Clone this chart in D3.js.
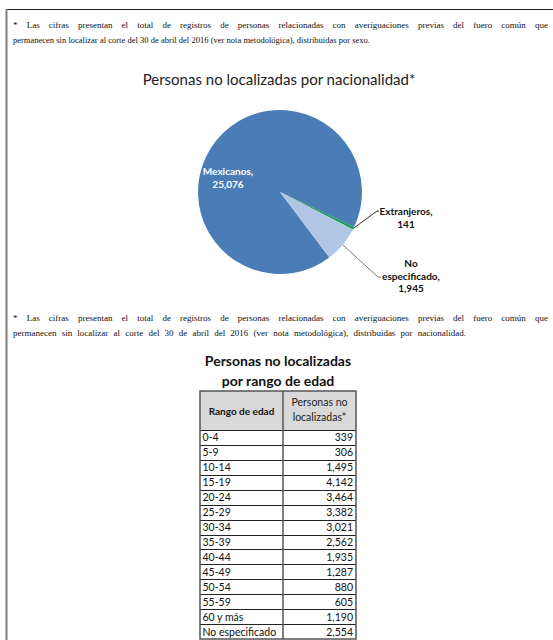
<!DOCTYPE html>
<html>
<head>
<meta charset="utf-8" />
<script src="https://d3js.org/d3.v7.min.js"></script>
<style>
  body { margin: 0; background: #fff; }
  #wrap { position: relative; width: 553px; height: 640px; overflow: hidden; }
  .nota { position: absolute; left: 13px; font-family: "Liberation Serif", serif; color: #111; }
  .nota div { text-align: justify; text-align-last: justify; white-space: normal; }
  svg { position: absolute; left: 0; top: 0; }
</style>
</head>
<body>
<div id="wrap"></div>
<script>
// notas al pie
var nota1 = ["* Las cifras presentan el total de registros de personas relacionadas con averiguaciones previas del fuero común que",
             "permanecen sin localizar al corte del 30 de abril del 2016 (ver nota metodológica), distribuidas por sexo."];
var nota2 = ["* Las cifras presentan el total de registros de personas relacionadas con averiguaciones previas del fuero común que",
             "permanecen sin localizar al corte del 30 de abril del 2016 (ver nota metodológica), distribuidas por nacionalidad."];

// pastel por nacionalidad
var nacionalidad = ["Mexicanos", "Extranjeros", "No especificado"];
var personasNac = [25076, 141, 1945];

// tabla por edad
var rangosEdad = ["0-4", "5-9", "10-14", "15-19", "20-24", "25-29", "30-34", "35-39", "40-44", "45-49", "50-54", "55-59", "60 y más", "No especificado"];
var personasEdad = [339, 306, 1495, 4142, 3464, 3382, 3021, 2562, 1935, 1287, 880, 605, 1190, 2554];

var W = 553, H = 640;
var wrap = d3.select("#wrap");
var fmt = d3.format(",");

// cada renglon se justifica al ancho que ocupa en el original
function addNota(lines, widths, sizes, top, lh) {
  var n = wrap.append("div").attr("class", "nota")
    .style("top", top + "px").style("line-height", lh + "px");
  n.selectAll("div").data(lines).enter().append("div")
    .style("width", function(d, i) { return widths[i] + "px"; })
    .style("font-size", function(d, i) { return sizes[i] + "px"; })
    .text(function(d) { return d; });
}
addNota(nota1, [535, 357], [9, 8.5], 18, 14.5);
addNota(nota2, [535, 453], [9, 9], 311, 14.5);

var svg = wrap.append("svg").attr("width", W).attr("height", H);

// marco
svg.append("line").attr("x1", 6).attr("x2", W).attr("y1", 9.5).attr("y2", 9.5)
  .attr("stroke", "#222").attr("stroke-width", 1);
svg.append("line").attr("x1", 6.5).attr("x2", 6.5).attr("y1", 9).attr("y2", H)
  .attr("stroke", "#7f7f7f").attr("stroke-width", 2);

// ---- pastel ----
svg.append("text").attr("x", 279).attr("y", 85).attr("text-anchor", "middle")
  .style("font-family", "Lato, sans-serif").style("font-size", "15px").attr("fill", "#222")
  .text("Personas no localizadas por nacionalidad*");

var cx = 280, cy = 192, r = 82;
var colores = d3.scaleOrdinal().domain(nacionalidad).range(["#4a7db5", "#12a14a", "#b0c6e4"]);
var start = 143 * Math.PI / 180;
var pie = d3.pie().sort(null).startAngle(start).endAngle(start + 2 * Math.PI);
var arcs = pie(personasNac);
var arc = d3.arc().innerRadius(0).outerRadius(r);
var edge = d3.arc().innerRadius(r).outerRadius(r);

var gp = svg.append("g").attr("transform", "translate(" + cx + "," + cy + ")");
gp.selectAll("path").data(arcs).enter().append("path")
  .attr("d", arc)
  .attr("fill", function(d, i) { return colores(nacionalidad[i]); });

// etiquetas: desplazamientos relativos al centro del pastel
var etiquetas = [
  {lines: ["Mexicanos,", fmt(personasNac[0])], dx: -52, dy: -21, fill: "#fff", weight: "bold"},
  {lines: ["Extranjeros,", fmt(personasNac[1])], dx: 126, dy: 19, fill: "#111", weight: "bold",
   leader: [[97, 19], [99, 19]]},
  {lines: ["No", "especificado,", fmt(personasNac[2])], dx: 131, dy: 71, fill: "#111", weight: "bold",
   leader: [[98, 85], [101, 85]]}
];
etiquetas.forEach(function(e, i) {
  if (e.leader) {
    var p0 = edge.centroid(arcs[i]);
    gp.append("path")
      .attr("d", d3.line()([p0].concat(e.leader)))
      .attr("fill", "none").attr("stroke", i == 1 ? "#333" : "#777").attr("stroke-width", 1);
  }
  var t = gp.append("text").attr("text-anchor", "middle")
    .style("font-family", "Lato, sans-serif").style("font-size", "10px")
    .style("font-weight", e.weight).attr("fill", e.fill);
  t.selectAll("tspan").data(e.lines).enter().append("tspan")
    .attr("x", e.dx).attr("y", function(d, k) { return e.dy + 4 + k * 12.5; })
    .text(function(d) { return d; });
});

// ---- tabla ----
svg.selectAll("text.tt").data(["Personas no localizadas", "por rango de edad"]).enter().append("text")
  .attr("class", "tt").attr("x", 278).attr("y", function(d, i) { return 366 + i * 20; })
  .attr("text-anchor", "middle")
  .style("font-family", "Lato, sans-serif").style("font-size", "14px").style("font-weight", "bold")
  .attr("fill", "#111").text(function(d) { return d; });

var tx0 = 200, tx1 = 283, tx2 = 356, hTop = 391, hBot = 430;
var y = d3.scaleBand().domain(rangosEdad).range([hBot, 639]);

svg.append("rect").attr("x", tx0).attr("y", hTop).attr("width", tx2 - tx0).attr("height", hBot - hTop)
  .attr("fill", "#d9d9d9");

var fuente = "Lato, sans-serif", fs = "10.5px";
svg.append("text").attr("x", (tx0 + tx1) / 2).attr("y", (hTop + hBot) / 2 + 4).attr("text-anchor", "middle")
  .style("font-family", fuente).style("font-size", "10px").style("font-weight", "bold").attr("fill", "#111")
  .text("Rango de edad");
svg.selectAll("text.h2").data(["Personas no", "localizadas*"]).enter().append("text")
  .attr("class", "h2").attr("x", (tx1 + tx2) / 2).attr("y", function(d, i) { return hTop + 15 + i * 14.5; })
  .attr("text-anchor", "middle")
  .style("font-family", fuente).style("font-size", fs).attr("fill", "#222")
  .text(function(d) { return d; });

var filas = svg.selectAll("g.fila").data(rangosEdad).enter().append("g").attr("class", "fila");
filas.append("text").attr("x", tx0 + 2.5).attr("y", function(d) { return y(d) + y.bandwidth() / 2 + 4; })
  .style("font-family", fuente).style("font-size", fs).attr("fill", "#111")
  .text(function(d) { return d; });
filas.append("text").attr("x", tx2 - 3).attr("y", function(d) { return y(d) + y.bandwidth() / 2 + 4; })
  .attr("text-anchor", "end")
  .style("font-family", fuente).style("font-size", fs).attr("fill", "#111")
  .text(function(d, i) { return fmt(personasEdad[i]); });

// lineas de la tabla
svg.selectAll("line.fl").data(rangosEdad).enter().append("line").attr("class", "fl")
  .attr("x1", tx0).attr("x2", tx2)
  .attr("y1", function(d) { return Math.round(y(d)) + 0.5; }).attr("y2", function(d) { return Math.round(y(d)) + 0.5; })
  .attr("stroke", "#222").attr("stroke-width", 1);
svg.append("line").attr("x1", tx1).attr("x2", tx1).attr("y1", hTop).attr("y2", 639)
  .attr("stroke", "#555").attr("stroke-width", 1.5);
svg.append("rect").attr("x", tx0).attr("y", hTop).attr("width", tx2 - tx0).attr("height", 639 - hTop)
  .attr("fill", "none").attr("stroke", "#555").attr("stroke-width", 1.5);
</script>
</body>
</html>
